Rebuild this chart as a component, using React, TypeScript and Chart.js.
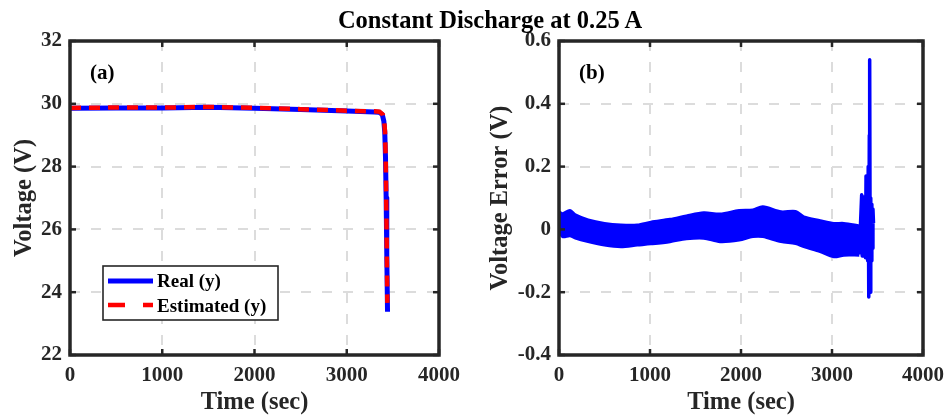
import React, { useEffect, useRef } from 'react';
import { Chart, registerables } from 'chart.js';

Chart.register(...registerables);

const FONT = "'Times New Roman', 'Liberation Serif', Times, serif";
const AXIS_COLOR = '#262626';
const GRID_COLOR = '#dcdcdc';

// ---------- shared ----------
const timeTicks = [0, 1000, 2000, 3000, 4000];

// ---------- panel (a): voltage ----------
const voltTicks = [22, 24, 26, 28, 30, 32];
const realTime = [0, 500, 1000, 1500, 2000, 2500, 3000, 3300, 3350, 3385, 3402, 3412, 3420, 3427, 3434, 3442];
const realVolt = [29.86, 29.87, 29.87, 29.89, 29.86, 29.82, 29.77, 29.74, 29.73, 29.66, 29.45, 29.1, 28.3, 27.0, 25.2, 23.38];
const estTime = [0, 500, 1000, 1500, 2000, 2500, 3000, 3300, 3355, 3390, 3406, 3415, 3422, 3428, 3434, 3440];
const estVolt = [29.87, 29.88, 29.88, 29.9, 29.87, 29.83, 29.78, 29.76, 29.75, 29.66, 29.45, 29.1, 28.3, 27.0, 25.3, 23.66];

// ---------- panel (b): voltage error ----------
const errTicks = [-0.4, -0.2, 0, 0.2, 0.4, 0.6];
const bandTime = [0, 40, 120, 180, 320, 500, 680, 860, 1010, 1220, 1400, 1590, 1770, 1980, 2130, 2240, 2440, 2600, 2690, 2870, 3020, 3130, 3300];
const bandUpper = [0.056, 0.05, 0.06, 0.046, 0.03, 0.019, 0.014, 0.014, 0.023, 0.032, 0.043, 0.053, 0.049, 0.06, 0.062, 0.072, 0.056, 0.057, 0.04, 0.028, 0.019, 0.019, 0.011];
const bandLower = [-0.002, -0.023, -0.02, -0.028, -0.039, -0.05, -0.055, -0.05, -0.046, -0.039, -0.03, -0.028, -0.039, -0.034, -0.023, -0.023, -0.039, -0.045, -0.055, -0.071, -0.087, -0.082, -0.082];
const spikeTime = [3300, 3326, 3332, 3338, 3344, 3350, 3356, 3362, 3368, 3374, 3380, 3386, 3392, 3398, 3404, 3410, 3414, 3420, 3426, 3432, 3438, 3444, 3450, 3456];
const spikeErr = [-0.08, 0.11, -0.085, 0.105, -0.085, 0.1, -0.085, 0.1, -0.09, 0.17, -0.09, 0.15, -0.1, 0.2, -0.215, 0.3, 0.54, -0.2, 0.1, -0.1, 0.08, -0.06, 0.065, 0.02];

const pts = (xs: number[], ys: number[]) => xs.map((x, i) => ({ x, y: ys[i] }));

function fmtTick(v: any) {
  const n = Math.round(Number(v) * 10) / 10;
  return n === 0 ? '0' : String(n);
}

function scalesFor(yMin: number, yMax: number, yTicks: number[], yTitle: string, yWidth: number) {
  const tickFont = { family: FONT, size: 21, weight: 'bold' as const };
  const titleFont = { family: FONT, size: 24.5, weight: 'bold' as const };
  return {
    x: {
      type: 'linear' as const,
      min: 0,
      max: 4000,
      afterBuildTicks: (s: any) => { s.ticks = timeTicks.map((v) => ({ value: v })); },
      afterFit: (s: any) => { s.height = 64; },
      ticks: { autoSkip: false, maxRotation: 0, padding: 8, color: AXIS_COLOR, font: tickFont, callback: (v: any) => String(v) },
      grid: { color: GRID_COLOR, lineWidth: 2, drawTicks: false },
      border: { display: false, dash: [10, 11] },
      title: { display: true, text: 'Time (sec)', color: AXIS_COLOR, font: titleFont, padding: { top: 0, bottom: 2 } },
    },
    y: {
      type: 'linear' as const,
      min: yMin,
      max: yMax,
      afterBuildTicks: (s: any) => { s.ticks = yTicks.map((v) => ({ value: v })); },
      afterFit: (s: any) => { s.width = yWidth; },
      ticks: { autoSkip: false, padding: 8, color: AXIS_COLOR, font: tickFont, callback: fmtTick },
      grid: { color: GRID_COLOR, lineWidth: 2, drawTicks: false },
      border: { display: false, dash: [10, 11] },
      title: { display: true, text: yTitle, color: AXIS_COLOR, font: titleFont, padding: { top: 10, bottom: 0 } },
    },
  };
}

function decorPlugin(label: string, yTicks: number[], legend: boolean) {
  return {
    id: 'decor',
    afterDatasetsDraw(chart: any) {
      const { ctx, chartArea: a, scales } = chart;
      ctx.save();
      ctx.strokeStyle = AXIS_COLOR;
      ctx.lineWidth = 2.5;
      const seg = (x1: number, y1: number, x2: number, y2: number) => {
        ctx.beginPath(); ctx.moveTo(x1, y1); ctx.lineTo(x2, y2); ctx.stroke();
      };
      for (const v of timeTicks) {
        const p = scales.x.getPixelForValue(v);
        seg(p, a.bottom, p, a.bottom - 6);
        seg(p, a.top, p, a.top + 6);
      }
      for (const v of yTicks) {
        const p = scales.y.getPixelForValue(v);
        seg(a.left, p, a.left + 6, p);
        seg(a.right, p, a.right - 6, p);
      }
      ctx.lineWidth = 3.5;
      ctx.strokeRect(a.left, a.top, a.right - a.left, a.bottom - a.top);
      ctx.fillStyle = '#000';
      ctx.font = `bold 21px ${FONT}`;
      ctx.textAlign = 'left';
      ctx.textBaseline = 'alphabetic';
      ctx.fillText(label, a.left + 20, a.top + 38);
      if (legend) {
        const bx = a.left + 33, by = a.bottom - 89, bw = 175, bh = 54;
        ctx.fillStyle = '#fff';
        ctx.fillRect(bx, by, bw, bh);
        ctx.strokeStyle = AXIS_COLOR;
        ctx.lineWidth = 1.6;
        ctx.strokeRect(bx, by, bw, bh);
        ctx.lineWidth = 5;
        ctx.strokeStyle = '#0000ff';
        seg(bx + 5, by + 15, bx + 50, by + 15);
        ctx.lineWidth = 4.5;
        ctx.strokeStyle = '#ff0000';
        ctx.setLineDash([17, 18]);
        seg(bx + 5, by + 39, bx + 50, by + 39);
        ctx.setLineDash([]);
        ctx.fillStyle = '#000';
        ctx.font = `bold 19px ${FONT}`;
        ctx.fillText('Real (y)', bx + 54, by + 21);
        ctx.fillText('Estimated (y)', bx + 54, by + 46);
      }
      ctx.restore();
    },
  };
}

export default function App() {
  const refA = useRef<HTMLCanvasElement | null>(null);
  const refB = useRef<HTMLCanvasElement | null>(null);

  useEffect(() => {
    const chartA = new Chart(refA.current as HTMLCanvasElement, {
      type: 'line',
      data: {
        datasets: [
          {
            label: 'Real (y)',
            data: pts(realTime, realVolt),
            borderColor: '#0000ff',
            borderWidth: 5,
            borderJoinStyle: 'round',
            pointRadius: 0,
            fill: false,
            tension: 0,
            order: 1,
          },
          {
            label: 'Estimated (y)',
            data: pts(estTime, estVolt),
            borderColor: '#ff0000',
            borderWidth: 4.5,
            borderDash: [11, 8],
            pointRadius: 0,
            fill: false,
            tension: 0,
            order: 0,
          },
        ],
      },
      options: {
        animation: false,
        responsive: false,
        maintainAspectRatio: false,
        devicePixelRatio: 1,
        layout: { padding: { left: 0, right: 37, top: 41, bottom: 0 } },
        plugins: { legend: { display: false }, tooltip: { enabled: false }, title: { display: false } },
        scales: scalesFor(22, 32, voltTicks, 'Voltage (V)', 70) as any,
      },
      plugins: [decorPlugin('(a)', voltTicks, true)],
    });

    const chartB = new Chart(refB.current as HTMLCanvasElement, {
      type: 'line',
      data: {
        datasets: [
          {
            label: 'upper',
            data: pts(bandTime, bandUpper),
            borderColor: '#0000ff',
            borderWidth: 3,
            pointRadius: 0,
            fill: false,
            tension: 0.3,
          },
          {
            label: 'lower',
            data: pts(bandTime, bandLower),
            borderColor: '#0000ff',
            backgroundColor: '#0000ff',
            borderWidth: 3,
            pointRadius: 0,
            fill: '-1',
            tension: 0.3,
          },
          {
            label: 'spike',
            data: pts(spikeTime, spikeErr),
            borderColor: '#0000ff',
            borderWidth: 3.5,
            borderJoinStyle: 'round',
            pointRadius: 0,
            fill: false,
            tension: 0,
          },
        ],
      },
      options: {
        animation: false,
        responsive: false,
        maintainAspectRatio: false,
        devicePixelRatio: 1,
        layout: { padding: { left: 0, right: 25, top: 41, bottom: 0 } },
        plugins: { legend: { display: false }, tooltip: { enabled: false }, title: { display: false } },
        scales: scalesFor(-0.4, 0.6, errTicks, 'Voltage Error (V)', 83) as any,
      },
      plugins: [decorPlugin('(b)', errTicks, false)],
    });

    return () => {
      chartA.destroy();
      chartB.destroy();
    };
  }, []);

  return (
    <div style={{ position: 'absolute', left: 0, top: 0, width: 952, height: 419, background: '#fff', overflow: 'hidden' }}>
      <canvas ref={refA} width={476} height={419} style={{ position: 'absolute', left: 0, top: 0, width: 476, height: 419 }} />
      <canvas ref={refB} width={476} height={419} style={{ position: 'absolute', left: 476, top: 0, width: 476, height: 419 }} />
      <div
        style={{
          position: 'absolute',
          left: 490,
          top: 8,
          transform: 'translateX(-50%)',
          whiteSpace: 'nowrap',
          font: `bold 24.5px/24px ${FONT}`,
          color: '#000',
        }}
      >
        Constant Discharge at 0.25 A
      </div>
    </div>
  );
}
